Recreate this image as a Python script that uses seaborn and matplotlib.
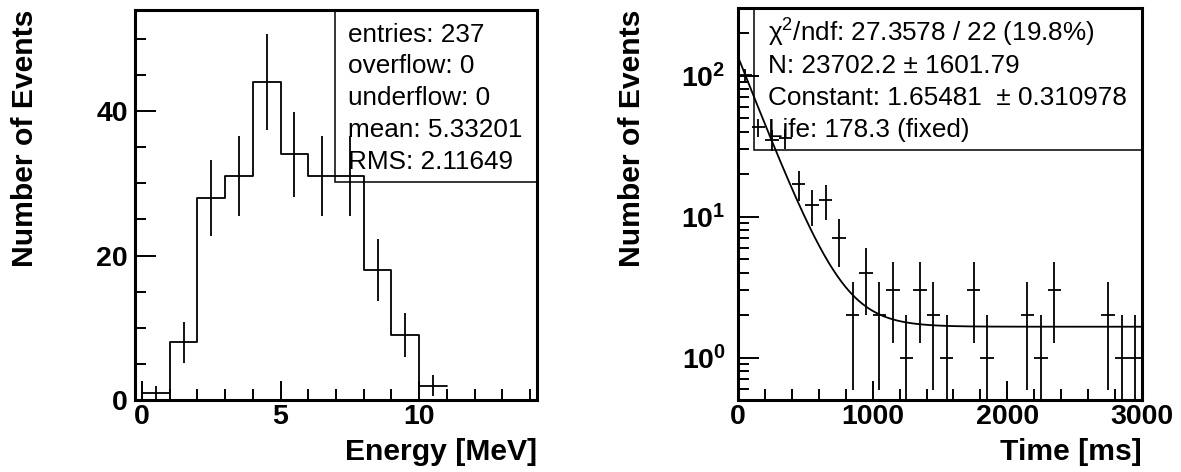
import numpy as np
import pandas as pd
import matplotlib
matplotlib.use("Agg")
import matplotlib.pyplot as plt
import seaborn as sns
from matplotlib.ticker import MultipleLocator, LogLocator, NullFormatter, FixedLocator, FixedFormatter

# --- data ---
energy_edges = [0, 1, 2, 3, 4, 5, 6, 7, 8, 9, 10, 11]
energy_counts = [1, 8, 28, 31, 44, 34, 31, 31, 18, 9, 2]
energy_stats = ["entries: 237", "overflow: 0", "underflow: 0",
                "mean: 5.33201", "RMS: 2.11649"]

time_bin_width = 100
time_centers = [50, 150, 250, 350, 450, 550, 650, 750, 850, 950,
                1050, 1150, 1250, 1350, 1450, 1550, 1650, 1750, 1850, 1950,
                2050, 2150, 2250, 2350, 2450, 2550, 2650, 2750, 2850, 2950]
time_counts = [101, 43, 35, 36, 17, 12, 13, 7, 2, 4,
               2, 3, 1, 3, 2, 1, 0, 3, 1, 0,
               0, 2, 1, 3, 0, 0, 0, 2, 1, 1]
fit_N = 23702.2
fit_const = 1.65481
fit_life = 178.3
fit_stats = ["\u03c7$^{2}$/ndf: 27.3578 / 22 (19.8%)",
             "N: 23702.2 \u00b1 1601.79",
             "Constant: 1.65481  \u00b1 0.310978",
             "Life: 178.3 (fixed)"]

sns.set_style("ticks")
plt.rcParams["font.family"] = ["Liberation Sans", "DejaVu Sans"]
plt.rcParams["mathtext.fontset"] = "custom"
plt.rcParams["mathtext.rm"] = "Liberation Sans"
plt.rcParams["mathtext.it"] = "Liberation Sans:italic"
plt.rcParams["mathtext.bf"] = "Liberation Sans:bold"
for key in ("text.color", "axes.labelcolor", "xtick.color", "ytick.color", "axes.edgecolor"):
    plt.rcParams[key] = "black"

fig = plt.figure(figsize=(11.81, 4.72), dpi=100)
ax1 = fig.add_axes([0.1143, 0.1525, 0.3404, 0.8263])
ax2 = fig.add_axes([0.6251, 0.1525, 0.3416, 0.8300])

lw = 1.3
stat_fs = 18.8
title_fs = 21.7
tick_fs = 20.5

# --- left: energy histogram ---
e_centers = [(a + b) / 2 for a, b in zip(energy_edges[:-1], energy_edges[1:])]
edf = pd.DataFrame({"energy": e_centers, "count": energy_counts})
sns.histplot(data=edf, x="energy", weights="count", bins=energy_edges,
             element="step", fill=False, color="black", linewidth=lw, ax=ax1)
ax1.errorbar(edf["energy"], edf["count"], yerr=np.sqrt(edf["count"]),
             fmt="none", ecolor="black", elinewidth=lw, capsize=0)
ax1.set_xlim(-0.25, 14.25)
ax1.set_ylim(0, 54)
ax1.xaxis.set_major_locator(FixedLocator([0, 5, 10]))
ax1.xaxis.set_minor_locator(MultipleLocator(1))
ax1.yaxis.set_major_locator(FixedLocator([0, 20, 40]))
ax1.yaxis.set_minor_locator(MultipleLocator(5))
ax1.set_xlabel("")
ax1.set_ylabel("")

ax1.add_patch(plt.Rectangle((0.4975, 0.56), 0.5025, 0.44, transform=ax1.transAxes,
                            fill=False, edgecolor="black", linewidth=1.1))
for i, s in enumerate(energy_stats):
    ax1.text(0.53, 1 - (31.7 + 31.7 * i) / 390, s, transform=ax1.transAxes,
             ha="left", va="baseline", fontsize=stat_fs)

ax1.text(-0.2537, 1.0, "Number of Events", transform=ax1.transAxes, rotation=90,
         rotation_mode="anchor", ha="right", va="baseline",
         fontsize=title_fs, fontweight="bold")
ax1.text(1.0, -0.154, "Energy [MeV]", transform=ax1.transAxes,
         ha="right", va="baseline", fontsize=title_fs, fontweight="bold")

# --- right: decay time, log scale with fit ---
tdf = pd.DataFrame({"time": time_centers, "count": time_counts})
tdf = tdf[tdf["count"] > 0]
lo = np.sqrt(tdf["count"]).clip(upper=tdf["count"] - 1e-3)
ax2.errorbar(tdf["time"], tdf["count"], xerr=time_bin_width / 2,
             yerr=[lo, np.sqrt(tdf["count"])],
             fmt="none", ecolor="black", elinewidth=lw, capsize=0)

t = np.linspace(0, 3000, 600)
fdf = pd.DataFrame({"time": t,
                    "fit": fit_N / fit_life * np.exp(-t / fit_life) + fit_const})
sns.lineplot(data=fdf, x="time", y="fit", color="black", linewidth=lw, ax=ax2)
ax2.set_yscale("log")
ax2.set_xlim(0, 3000)
ax2.set_ylim(0.5, 300)
ax2.xaxis.set_major_locator(FixedLocator([0, 1000, 2000, 3000]))
ax2.xaxis.set_minor_locator(MultipleLocator(200))
ax2.yaxis.set_major_locator(FixedLocator([1, 10, 100]))
ax2.yaxis.set_major_formatter(FixedFormatter([r"$\mathbf{10^{0}}$",
                                              r"$\mathbf{10^{1}}$",
                                              r"$\mathbf{10^{2}}$"]))
ax2.yaxis.set_minor_locator(LogLocator(base=10, subs=np.arange(2, 10)))
ax2.yaxis.set_minor_formatter(NullFormatter())
ax2.set_xlabel("")
ax2.set_ylabel("")

ax2.add_patch(plt.Rectangle((0.039, 0.638), 0.961, 0.362, transform=ax2.transAxes,
                            fill=False, edgecolor="black", linewidth=1.1))
for i, s in enumerate(fit_stats):
    ax2.text(0.0736, 1 - (33.4 + 31.7 * i) / 391.7, s, transform=ax2.transAxes,
             ha="left", va="baseline", fontsize=stat_fs)

ax2.text(-0.2437, 0.996, "Number of Events", transform=ax2.transAxes, rotation=90,
         rotation_mode="anchor", ha="right", va="baseline",
         fontsize=title_fs, fontweight="bold")
ax2.text(1.0, -0.153, "Time [ms]", transform=ax2.transAxes,
         ha="right", va="baseline", fontsize=title_fs, fontweight="bold")

for ax in (ax1, ax2):
    for side in ("top", "right", "left", "bottom"):
        ax.spines[side].set_visible(True)
        ax.spines[side].set_linewidth(2.2)
        ax.spines[side].set_color("black")
    ax.tick_params(which="both", direction="in", top=False, right=False,
                   color="black", width=1.4)
    ax.tick_params(which="major", length=14, labelsize=tick_fs)
    ax.tick_params(which="minor", length=8)
    ax.tick_params(axis="y", which="major", length=15, pad=5)
    ax.tick_params(axis="x", which="major", pad=3)
    for lab in ax.get_xticklabels() + ax.get_yticklabels():
        lab.set_fontweight("bold")
    ax.set_facecolor("white")
ax2.tick_params(axis="y", which="major", pad=9)

fig.savefig("out.png", dpi=100, facecolor="white")
